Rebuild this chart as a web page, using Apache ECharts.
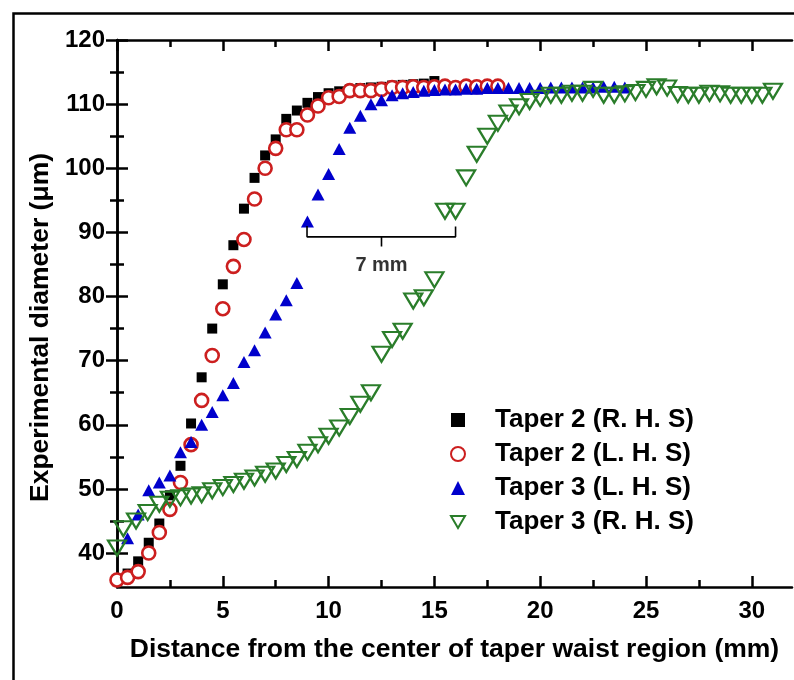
<!DOCTYPE html>
<html>
<head>
<meta charset="utf-8">
<title>Taper diameter</title>
<script src="https://cdn.jsdelivr.net/npm/echarts@6/dist/echarts.min.js"></script>
<style>
  html, body { margin: 0; padding: 0; background: #fff; }
  #chart { width: 794px; height: 680px; }
</style>
</head>
<body>
<div id="chart"></div>
<script type="text/javascript">
// x = distance (mm), y = diameter (um)
var taper2RHS = [[0,35.6],[0.5,36.8],[1,38.7],[1.5,41.6],[2,44.6],[2.5,49.0],[3,53.6],[3.5,60.2],[4,67.4],[4.5,75.0],[5,81.9],[5.5,88.0],[6,93.7],[6.5,98.5],[7,102.0],[7.5,104.5],[8,107.7],[8.5,109.0],[9,110.2],[9.5,111.1],[10,111.7],[10.5,112.0],[11,112.3],[11.5,112.5],[12,112.6],[12.5,112.7],[13,112.9],[13.5,113.0],[14,113.1],[14.5,113.2],[15,113.6]];
var taper2LHS = [[0,35.8],[0.5,36.2],[1,37.1],[1.5,40.0],[2,43.2],[2.5,46.8],[3,51.0],[3.5,56.9],[4,63.8],[4.5,70.8],[5,78.1],[5.5,84.7],[6,88.9],[6.5,95.2],[7,100.0],[7.5,103.1],[8,106.0],[8.5,106.0],[9,108.3],[9.5,109.7],[10,111.0],[10.5,111.2],[11,112.1],[11.5,112.1],[12,112.1],[12.5,112.3],[13,112.6],[13.5,112.6],[14,112.7],[14.5,112.6],[15,112.7],[15.5,112.8],[16,112.6],[16.5,112.8],[17,112.7],[17.5,112.8],[18,112.8]];
var taper3LHS = [[0.5,42.3],[1,46.0],[1.5,49.8],[2,51.0],[2.5,52.1],[3,55.7],[3.5,57.3],[4,60.0],[4.5,62.0],[5,64.6],[5.5,66.5],[6,69.8],[6.5,71.6],[7,74.4],[7.5,77.2],[8,79.4],[8.5,82.1],[9,91.7],[9.5,95.9],[10,99.1],[10.5,103.0],[11,106.3],[11.5,108.2],[12,110.0],[12.5,110.6],[13,111.4],[13.5,111.7],[14,111.9],[14.5,112.1],[15,112.2],[15.5,112.3],[16,112.3],[16.5,112.4],[17,112.4],[17.5,112.5],[18,112.5],[18.5,112.5],[19,112.5],[19.5,112.5],[20,112.5],[20.5,112.6],[21,112.6],[21.5,112.6],[22,112.6],[22.5,112.6],[23,112.7],[23.5,112.7],[24,112.6]];
var taper3RHS = [[0,40.8],[0.3,43.8],[0.9,45.0],[1.45,46.3],[2,47.6],[2.5,48.4],[3,48.6],[3.5,48.9],[4,49.1],[4.5,49.7],[5,50.2],[5.5,50.7],[6,51.2],[6.5,51.7],[7,52.3],[7.5,52.8],[8,53.8],[8.5,54.6],[9,55.7],[9.5,56.9],[10,58.2],[10.5,59.5],[11,61.3],[11.5,63.2],[12,65.0],[12.5,71.0],[13,73.3],[13.5,74.6],[14,79.3],[14.5,79.8],[15,82.6],[15.5,93.3],[16,93.3],[16.5,98.5],[17,102.2],[17.5,105.0],[18,107.0],[18.5,108.6],[19,109.6],[19.5,110.4],[20,110.9],[20.5,111.4],[21,111.4],[21.5,111.7],[22,111.7],[22.5,112.3],[23,111.4],[23.5,111.4],[24,111.6],[24.5,111.8],[25,112.3],[25.5,112.7],[26,112.5],[26.5,111.5],[27,111.4],[27.5,111.4],[28,111.7],[28.5,111.6],[29,111.4],[29.5,111.4],[30,111.4],[30.5,111.4],[31,112.0]];

var seriesNames = ['Taper 2 (R. H. S)', 'Taper 2 (L. H. S)', 'Taper 3 (L. H. S)', 'Taper 3 (R. H. S)'];

// 7 mm bracket between the two jumps
var bracketLine = [[8.98,91.0],[8.98,89.3],[16.0,89.3],[16.0,90.9]];
var bracketTick = [[12.5,89.3],[12.5,87.8]];
var bracketLabel = [[12.5,84.8]];

var xMajorTicks = [0,5,10,15,20,25,30];
var xMinorTicks = [2.5,7.5,12.5,17.5,22.5,27.5];
var yMajorTicks = [40,50,60,70,80,90,100,110,120];
var yMinorTicks = [45,55,65,75,85,95,105,115];

var X_MIN = 0, X_MAX = 31.9, Y_MIN = 34.7, Y_MAX = 120;
var FONT = '"Liberation Sans", Arial, sans-serif';
var DOWN_TRIANGLE = 'path://M0,0L20,0L10,17.3Z';

function xAx(pos, ticks, len, labels, line) {
	return {
		type: 'value', min: X_MIN, max: X_MAX, position: pos,
		axisLine: { show: line, lineStyle: { color: '#000', width: 2.5 } },
		axisTick: { show: true, inside: true, length: len, customValues: ticks, lineStyle: { color: '#000', width: 2.5 } },
		axisLabel: { show: labels, customValues: ticks, margin: 12, color: '#000', fontSize: 24, fontWeight: 'bold', fontFamily: FONT },
		splitLine: { show: false }
	};
}
function yAx(pos, ticks, len, labels, line) {
	return {
		type: 'value', min: Y_MIN, max: Y_MAX, position: pos,
		axisLine: { show: line, lineStyle: { color: '#000', width: 2.5 } },
		axisTick: { show: true, inside: true, length: len, customValues: ticks, lineStyle: { color: '#000', width: 2.5 } },
		axisLabel: { show: labels, customValues: ticks, margin: 12, color: '#000', fontSize: 24, fontWeight: 'bold', fontFamily: FONT },
		splitLine: { show: false }
	};
}

var xBottom = xAx('bottom', xMajorTicks, 11, true, true);
xBottom.name = 'Distance from the center of taper waist region (mm)';
xBottom.nameLocation = 'middle';
xBottom.nameGap = 49;
xBottom.nameTextStyle = { color: '#000', fontSize: 26.5, fontWeight: 'bold', fontFamily: FONT };

var yLeft = yAx('left', yMajorTicks, 11, true, true);
yLeft.name = 'Experimental diameter (\u03bcm)';
yLeft.nameLocation = 'middle';
yLeft.nameGap = 60;
yLeft.nameTextStyle = { color: '#000', fontSize: 26.5, fontWeight: 'bold', fontFamily: FONT, padding: [0, 28, 0, 0] };

var chart = echarts.init(document.getElementById('chart'));
chart.setOption({
	animation: false,
	backgroundColor: '#fff',
	grid: { left: 117, top: 40, width: 675, height: 547, containLabel: false },
	graphic: [{
		type: 'rect', left: 11, top: 11, silent: true,
		shape: { width: 820, height: 720 },
		style: { fill: 'none', stroke: '#000', lineWidth: 2.5 }
	}],
	legend: {
		orient: 'vertical', left: 445, top: 400,
		itemWidth: 14, itemHeight: 14, itemGap: 4,
		data: seriesNames,
		textStyle: { color: '#000', fontSize: 26, fontWeight: 'bold', fontFamily: FONT, lineHeight: 30, padding: [0, 0, 0, 25] }
	},
	xAxis: [
		xBottom,
		xAx('bottom', xMinorTicks, 7, false, false),
		xAx('top', xMajorTicks, 11, false, true),
		xAx('top', xMinorTicks, 7, false, false)
	],
	yAxis: [
		yLeft,
		yAx('left', yMinorTicks, 7, false, false),
		yAx('right', yMajorTicks, 11, false, true),
		yAx('right', yMinorTicks, 7, false, false)
	],
	series: [
		{
			name: seriesNames[0], type: 'scatter', data: taper2RHS,
			symbol: 'rect', symbolSize: 10,
			itemStyle: { color: '#000', opacity: 1 }
		},
		{
			name: seriesNames[1], type: 'scatter', data: taper2LHS,
			symbol: 'circle', symbolSize: 13,
			itemStyle: { color: '#fff', borderColor: '#cc1f1f', borderWidth: 2.6, opacity: 1 }
		},
		{
			name: seriesNames[2], type: 'scatter', data: taper3LHS,
			symbol: 'triangle', symbolSize: [13, 12],
			itemStyle: { color: '#0000cc', opacity: 1 }
		},
		{
			name: seriesNames[3], type: 'scatter', data: taper3RHS,
			symbol: DOWN_TRIANGLE, symbolSize: [18, 15],
			itemStyle: { color: 'rgba(0,0,0,0)', borderColor: '#2a7d2a', borderWidth: 2.2, opacity: 1 }
		},
		{
			type: 'line', data: bracketLine, symbol: 'none', silent: true,
			lineStyle: { color: '#000', width: 1.6 }
		},
		{
			type: 'line', data: bracketTick, symbol: 'none', silent: true,
			lineStyle: { color: '#000', width: 1.6 }
		},
		{
			type: 'scatter', data: bracketLabel, symbolSize: 0, silent: true,
			label: { show: true, position: 'inside', formatter: '7 mm', color: '#000', fontSize: 20, fontWeight: 'bold', fontFamily: FONT, textBorderWidth: 0 }
		}
	]
});
</script>
</body>
</html>
